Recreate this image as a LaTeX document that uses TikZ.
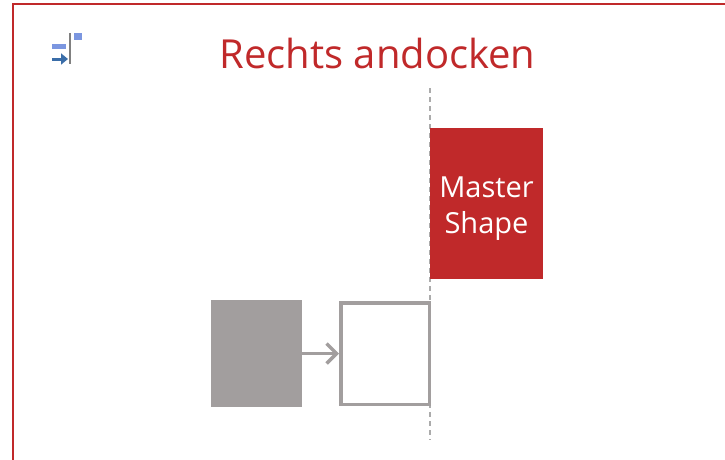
\documentclass[tikz,border=0pt]{standalone}
\usepackage{fontspec}
\setmainfont{Open Sans}
\usetikzlibrary{arrows.meta}
\definecolor{dockred}{HTML}{C0292A}
\definecolor{dockgrey}{HTML}{A29E9E}
\definecolor{guidegrey}{HTML}{ABABAB}
\definecolor{iconblue}{HTML}{7B96E0}
\definecolor{icondark}{HTML}{3A6DA8}
\tikzset{
  master/.style={fill=dockred, minimum width=113pt, minimum height=151pt, inner sep=0pt},
  mastertext/.style={text=white, align=center, font=\fontsize{29}{36}\selectfont, inner sep=0pt},
  movebox/.style={fill=dockgrey, minimum width=91pt, minimum height=107pt, inner sep=0pt},
  ghostbox/.style={draw=dockgrey, line width=3.5pt, minimum width=88.5pt, minimum height=101.5pt, inner sep=0pt},
  guide/.style={guidegrey, line width=1.5pt, dash pattern=on 5pt off 4pt},
  dockarrow/.style={dockgrey, line width=3.5pt, -{Straight Barb[length=10pt,width=20pt]}}
}
\begin{document}
\begin{tikzpicture}[x=1pt, y=-1pt]
\useasboundingbox (0,0) rectangle (725,459);
\draw[dockred, line width=2pt] (13,4) rectangle (760,500);

% icon
\draw[gray, line width=1.5pt] (70,33) -- (70,64);
\fill[iconblue] (74,33) rectangle (82,40);
\fill[iconblue] (52,44) rectangle (66,49);
\draw[icondark, line width=3pt, -{Triangle[length=7pt,width=11pt]}] (52,59) -- (68,59);

\node[anchor=base, text=dockred, font=\fontsize{40}{48}\selectfont] (title) at (377.5,68) {Rechts andocken};

\draw[guide] (430,88) -- (430,440);
\node[master] (ms) at (486.5,203.5) {};
\node[mastertext, anchor=base] (mslabel) at (486.5,233) {Master\\Shape};

\node[movebox] (src) at (256.5,353.5) {};
\node[ghostbox] (dst) at (385,353.5) {};
\draw[dockarrow] (src.east) -- (dst.west);
\end{tikzpicture}
\end{document}
